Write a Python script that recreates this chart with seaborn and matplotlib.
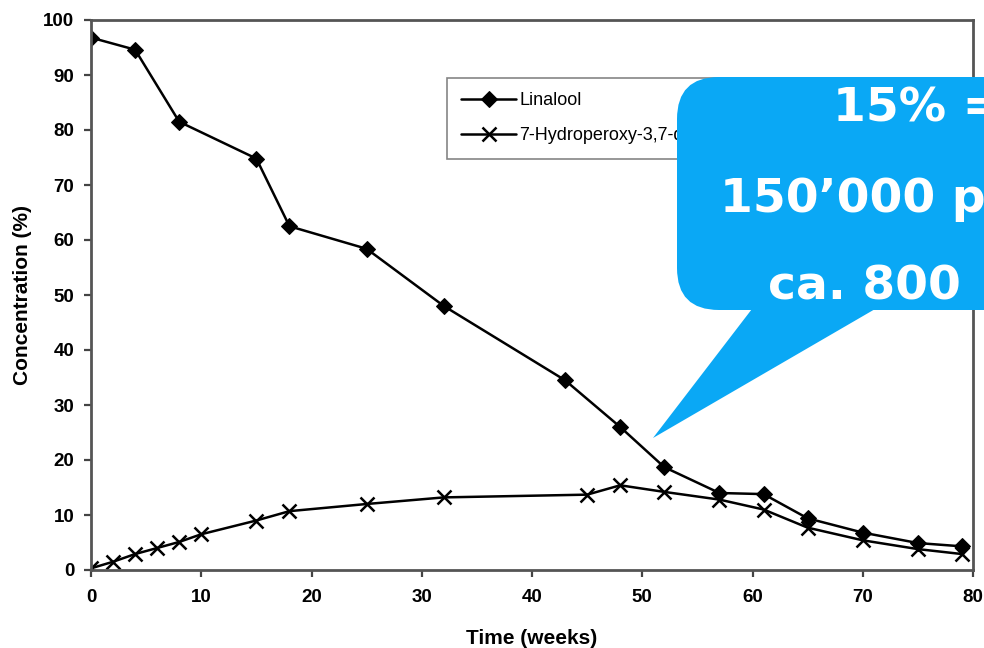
import matplotlib
matplotlib.use("Agg")
import matplotlib.pyplot as plt
import seaborn as sns
import pandas as pd
from matplotlib.patches import FancyBboxPatch, Polygon

# ---- data ----
linalool_weeks = [0, 4, 8, 15, 18, 25, 32, 43, 48, 52, 57, 61, 65, 70, 75, 79]
linalool_conc = [96.8, 94.6, 81.5, 74.8, 62.5, 58.4, 48.0, 34.5, 26.0, 18.7, 14.0, 13.8, 9.4, 6.8, 4.9, 4.3]

hydro_weeks = [0, 2, 4, 6, 8, 10, 15, 18, 25, 32, 45, 48, 52, 57, 61, 65, 70, 75, 79]
hydro_conc = [0.3, 1.5, 2.9, 4.0, 5.1, 6.5, 9.0, 10.7, 12.0, 13.2, 13.7, 15.4, 14.2, 12.8, 11.0, 7.7, 5.4, 3.8, 2.9]

label_lin = "Linalool"
label_hyd = "7-Hydroperoxy-3,7-dimethylocta-1,5-diene-3-ol"
callout_lines = ["15% =", "150\u2019000 ppm", "ca. 800"]

x_ticks = [0, 10, 20, 30, 40, 50, 60, 70, 80]
y_ticks = [0, 10, 20, 30, 40, 50, 60, 70, 80, 90, 100]

df_lin = pd.DataFrame({"Time": linalool_weeks, "Conc": linalool_conc})
df_hyd = pd.DataFrame({"Time": hydro_weeks, "Conc": hydro_conc})

sns.set_style("white")
plt.rcParams["font.family"] = ["Liberation Sans", "DejaVu Sans"]

W, H = 984, 648
fig = plt.figure(figsize=(W / 100, H / 100), dpi=100)
ax = fig.add_axes([91 / W, 78 / H, (973 - 91) / W, (570 - 20) / H])

sns.lineplot(data=df_lin, x="Time", y="Conc", ax=ax, color="black", lw=1.8,
             marker="D", markersize=8, markeredgecolor="black", label=label_lin)
sns.lineplot(data=df_hyd, x="Time", y="Conc", ax=ax, color="black", lw=1.8,
             marker="x", markersize=10, markeredgewidth=1.8, markeredgecolor="black",
             label=label_hyd)

ax.set_xlim(0, 80)
ax.set_ylim(0, 100)
ax.set_xticks(x_ticks)
ax.set_yticks(y_ticks)
for s in ax.spines.values():
    s.set_color("#555555")
    s.set_linewidth(2)
ax.tick_params(axis="both", direction="out", length=5, width=1.6, color="#444444",
               labelsize=13.5, labelcolor="black", bottom=True, left=True)
ax.tick_params(axis="x", pad=9)
ax.tick_params(axis="y", pad=7)
for lab in ax.get_xticklabels() + ax.get_yticklabels():
    lab.set_fontweight("bold")
ax.set_xlabel("Time (weeks)", fontsize=15, fontweight="bold", labelpad=16, color="black")
ax.set_ylabel("Concentration (%)", fontsize=15, fontweight="bold", labelpad=8, color="black")

leg = ax.legend(loc="upper left", bbox_to_anchor=(447 / W, 1 - 78 / H),
                bbox_transform=fig.transFigure, fancybox=False, frameon=True,
                edgecolor="#666666", fontsize=13, handlelength=3.0,
                borderpad=0.8, labelspacing=1.0, handletextpad=0.2, borderaxespad=0)
leg.get_frame().set_linewidth(1.2)
for t in leg.get_texts():
    t.set_color("black")

# ---- callout overlay ----
ov = fig.add_axes([0, 0, 1, 1], zorder=10)
ov.set_xlim(0, W)
ov.set_ylim(H, 0)
ov.axis("off")
ov.patch.set_alpha(0)
blue = "#0AA8F5"
box = FancyBboxPatch((677, 77), 500, 233, boxstyle="round,pad=0,rounding_size=42",
                     fc=blue, ec="none")
ov.add_patch(box)
ov.add_patch(Polygon([(755, 305), (882, 305), (653, 438)], closed=True, fc=blue, ec="none"))
text_pos = [(833, 121), (720, 212), (768, 300)]
for (tx, ty), t in zip(text_pos, callout_lines):
    ov.text(tx, ty, t, color="white", fontsize=34, fontweight="bold",
            family="DejaVu Sans", ha="left", va="baseline")

fig.savefig("out.png", dpi=100)
